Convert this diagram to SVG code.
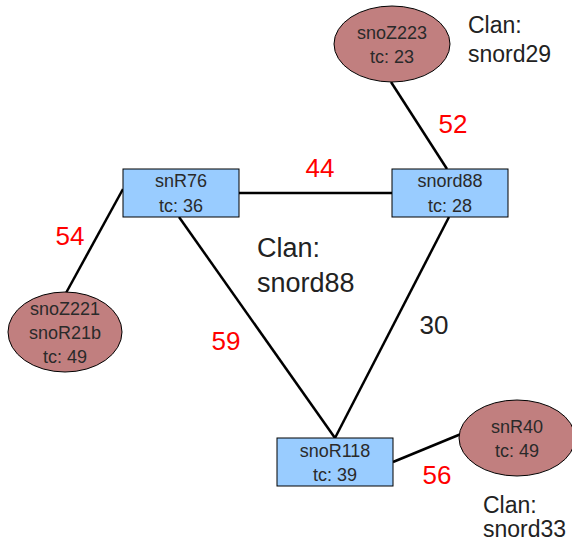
<svg xmlns="http://www.w3.org/2000/svg" width="572" height="543" viewBox="0 0 572 543">
<style>
text{font-family:"Liberation Sans",Arial,sans-serif;}
.n{font-size:18px;fill:#2a2a2a;text-anchor:middle;}
.box{fill:#99ccff;stroke:#000;stroke-width:1;}
.ell{fill:#c17f7f;stroke:#000;stroke-width:1;}
.e{stroke:#000;stroke-width:2.5;fill:none;}
.lr{font-size:26px;fill:#ff0000;text-anchor:middle;}
.lb{font-size:26px;fill:#222;text-anchor:middle;}
.clan{font-size:23px;fill:#222;}
.clanbig{font-size:27px;fill:#222;}
</style>
<rect width="572" height="543" fill="#fff"/>
<g id="connectors">
<line class="e" x1="239" y1="193" x2="392" y2="193"/>
<line class="e" x1="391" y1="82" x2="447" y2="169"/>
<line class="e" x1="123" y1="189" x2="66" y2="293"/>
<line class="e" x1="179" y1="217" x2="335" y2="438"/>
<line class="e" x1="449" y1="217" x2="335" y2="438"/>
<line class="e" x1="393" y1="462" x2="461" y2="434"/>
<text class="lr" x="320" y="177">44</text>
<text class="lr" x="453" y="133">52</text>
<text class="lr" x="70" y="245">54</text>
<text class="lr" x="226" y="350">59</text>
<text class="lb" x="434" y="334">30</text>
<text class="lr" x="437" y="484">56</text>
</g>
<g id="snR76">
<rect class="box" x="123" y="169" width="116" height="48"/>
<text class="n" x="181" y="187">snR76</text>
<text class="n" x="181" y="212">tc: 36</text>
</g>
<g id="snord88">
<rect class="box" x="392" y="169" width="116" height="48"/>
<text class="n" x="450" y="187">snord88</text>
<text class="n" x="450" y="212">tc: 28</text>
</g>
<g id="snoR118">
<rect class="box" x="277" y="438" width="116" height="48"/>
<text class="n" x="335" y="457">snoR118</text>
<text class="n" x="335" y="481">tc: 39</text>
</g>
<g id="snoZ223">
<ellipse class="ell" cx="392" cy="44" rx="58" ry="38"/>
<text class="n" x="392" y="39">snoZ223</text>
<text class="n" x="392" y="63">tc: 23</text>
</g>
<g id="snoZ221">
<ellipse class="ell" cx="65" cy="332" rx="57" ry="40"/>
<text class="n" x="65" y="315">snoZ221</text>
<text class="n" x="65" y="339">snoR21b</text>
<text class="n" x="65" y="363">tc: 49</text>
</g>
<g id="snR40">
<ellipse class="ell" cx="517" cy="438" rx="58" ry="38"/>
<text class="n" x="517" y="433">snR40</text>
<text class="n" x="517" y="457">tc: 49</text>
</g>
<g id="clan-snord29">
<text class="clan" x="468" y="33">Clan:</text>
<text class="clan" x="468" y="62">snord29</text>
</g>
<g id="clan-snord88">
<text class="clanbig" x="257" y="257">Clan:</text>
<text class="clanbig" x="257" y="292">snord88</text>
</g>
<g id="clan-snord33">
<text class="clan" x="483" y="513">Clan:</text>
<text class="clan" x="483" y="537">snord33</text>
</g>
</svg>
